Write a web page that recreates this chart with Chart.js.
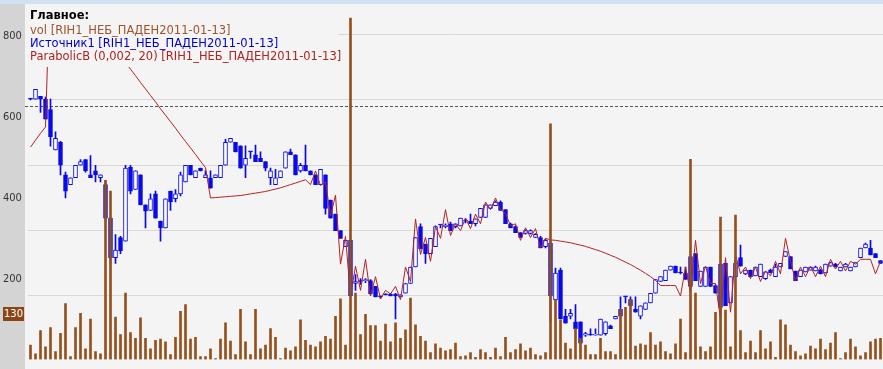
<!DOCTYPE html>
<html lang="ru">
<head>
    <meta charset="UTF-8">
    <title>RIH1</title>
    <style>
        body {
            margin: 0;
            background-color: #f4f4f4;
        }
        .chart-container {
            position: relative;
            width: 883px;
            height: 369px;
        }
        .legend {
            position: absolute;
            left: 25px;
            top: 5px;
            width: 313px;
            height: 62px;
            background-color: #f4f4f4;
            font-family: 'DejaVu Sans', sans-serif;
            font-size: 11.5px;
        }
        .legend div {
            position: absolute;
            left: 5px;
            line-height: 13px;
            white-space: nowrap;
        }
        .tag {
            position: absolute;
            left: 3px;
            top: 307px;
            width: 21px;
            height: 14px;
            line-height: 14px;
            background-color: #8b4513;
            color: white;
            font-family: 'DejaVu Sans Condensed', 'DejaVu Sans', sans-serif;
            font-size: 11px;
            text-align: center;
        }
    </style>
    <script src="https://cdn.jsdelivr.net/npm/chart.js"></script>
</head>
<body>
    <div class="chart-container">
        <canvas id="rihChart"></canvas>
        <div class="legend">
            <div style="top:4px; font-weight:bold; color:#000;">Главное:</div>
            <div style="top:19px; color:#a0522d;">vol [RIH1_НЕБ_ПАДЕН2011-01-13]</div>
            <div style="top:32px; color:#0000cc;">Источник1 [RIH1_НЕБ_ПАДЕН2011-01-13]</div>
            <div style="top:45px; color:#b22222;">ParabolicB (0,002, 20) [RIH1_НЕБ_ПАДЕН2011-01-13]</div>
        </div>
        <div class="tag" id="volTag">130</div>
    </div>

    <script>
        // candles
        const opens = [
            645, 645, 652, 645, 619, 519, 538, 457, 433, 450,
            481, 495, 457, 467, 450, 433, 350, 252, 302, 293,
            476, 421, 457, 383, 369, 410, 343, 326, 417, 398,
            410, 440, 481, 450, 474, 450, 450, 450, 450, 481,
            538, 538, 529, 481, 514, 507, 498, 490, 450, 433,
            450, 474, 514, 507, 467, 481, 467, 457, 433, 457,
            395, 360, 319, 279, 295, 188, 193, 195, 195, 181,
            155, 160, 162, 162, 155, 164, 188, 229, 329, 286,
            262, 279, 333, 329, 336, 329, 331, 343, 343, 336,
            352, 352, 374, 381, 390, 371, 336, 329, 314, 312,
            312, 302, 302, 279, 288, 148, 221, 107, 107, 93,
            93, 60, 60, 60, 60, 64, 83, 100, 124, 155,
            148, 124, 107, 124, 140, 164, 193, 195, 221, 231,
            214, 214, 255, 262, 181, 181, 229, 183, 236, 238,
            140, 205, 252, 212, 221, 207, 205, 200, 221, 205,
            229, 255, 255, 219, 205, 217, 221, 219, 221, 214,
            231, 236, 219, 229, 219, 229, 252, 276, 276, 262,
            245
        ];
        const highs = [
            647, 669, 652, 650, 645, 564, 540, 464, 450, 481,
            495, 495, 505, 481, 457, 443, 350, 309, 305, 481,
            481, 467, 457, 383, 410, 417, 343, 398, 417, 421,
            464, 481, 481, 467, 474, 467, 467, 457, 481, 545,
            548, 538, 529, 529, 514, 531, 514, 490, 474, 471,
            467, 514, 521, 507, 486, 531, 467, 457, 471, 457,
            395, 360, 319, 295, 295, 210, 200, 200, 198, 181,
            157, 162, 164, 164, 160, 188, 229, 302, 336, 286,
            300, 331, 333, 336, 340, 336, 350, 348, 360, 348,
            374, 383, 383, 393, 393, 371, 338, 331, 314, 321,
            321, 312, 305, 298, 293, 226, 226, 124, 124, 136,
            93, 67, 76, 76, 100, 93, 85, 107, 155, 155,
            155, 155, 133, 140, 164, 198, 205, 221, 231, 231,
            229, 229, 255, 262, 219, 229, 229, 185, 236, 238,
            205, 238, 283, 221, 221, 229, 236, 217, 224, 236,
            238, 267, 255, 219, 221, 229, 229, 231, 224, 236,
            240, 238, 229, 238, 229, 240, 276, 288, 295, 262,
            245
        ];
        const lows = [
            643, 645, 612, 595, 528, 519, 457, 400, 433, 450,
            481, 464, 450, 440, 440, 345, 238, 238, 262, 293,
            410, 421, 383, 326, 369, 350, 293, 326, 369, 390,
            405, 440, 457, 450, 467, 450, 424, 450, 450, 481,
            538, 514, 474, 450, 498, 490, 490, 467, 433, 433,
            450, 474, 507, 457, 464, 467, 457, 433, 433, 360,
            350, 319, 300, 279, 157, 171, 186, 190, 162, 155,
            152, 160, 157, 100, 155, 164, 188, 229, 274, 238,
            262, 279, 326, 326, 319, 326, 331, 338, 336, 331,
            352, 352, 374, 381, 369, 336, 326, 314, 302, 310,
            310, 302, 276, 276, 93, 148, 100, 90, 100, 76,
            38, 57, 60, 60, 60, 60, 76, 100, 107, 140,
            133, 117, 100, 124, 140, 164, 193, 195, 221, 214,
            212, 198, 181, 195, 181, 181, 181, 164, 129, 133,
            140, 205, 231, 210, 205, 207, 205, 198, 214, 205,
            229, 255, 224, 195, 205, 217, 221, 219, 212, 214,
            231, 229, 219, 229, 219, 229, 252, 276, 259, 252,
            238
        ];
        const closes = [
            645, 669, 645, 595, 552, 548, 481, 417, 450, 481,
            490, 467, 450, 457, 457, 350, 252, 271, 269, 474,
            417, 467, 383, 367, 398, 350, 326, 398, 390, 410,
            457, 481, 457, 467, 467, 457, 424, 457, 481, 538,
            548, 514, 474, 498, 514, 490, 490, 474, 467, 450,
            467, 514, 507, 457, 481, 467, 457, 433, 471, 374,
            350, 319, 300, 295, 157, 193, 193, 198, 162, 155,
            155, 160, 157, 157, 160, 188, 229, 302, 274, 262,
            300, 329, 333, 333, 319, 336, 350, 343, 336, 348,
            374, 383, 383, 390, 369, 336, 326, 314, 302, 319,
            319, 310, 276, 295, 157, 214, 100, 90, 114, 76,
            40, 64, 60, 62, 100, 93, 76, 107, 107, 155,
            133, 117, 133, 140, 164, 198, 205, 221, 231, 214,
            214, 198, 181, 195, 219, 229, 181, 164, 129, 133,
            205, 238, 231, 221, 205, 229, 236, 217, 214, 229,
            238, 267, 224, 195, 221, 229, 229, 229, 212, 236,
            240, 229, 229, 236, 229, 240, 276, 286, 259, 252,
            238
        ];
        const volumes = [
            35, 14, 71, 31, 78, 19, 64, 137, 7, 78,
            113, 26, 99, 19, 14, 440, 414, 104, 61, 163,
            66, 52, 102, 52, 26, 47, 50, 43, 12, 54,
            118, 135, 50, 54, 7, 7, 26, 2, 50, 90,
            45, 12, 123, 43, 12, 123, 26, 35, 76, 54,
            2, 28, 21, 31, 97, 47, 35, 31, 43, 57,
            50, 106, 149, 35, 839, 163, 61, 111, 83, 83,
            45, 87, 43, 90, 52, 73, 151, 85, 57, 45,
            17, 38, 28, 21, 24, 40, 7, 9, 17, 5,
            24, 17, 5, 28, 7, 54, 17, 24, 38, 21,
            28, 12, 9, 17, 579, 147, 97, 40, 26, 76,
            52, 35, 12, 12, 52, 19, 19, 12, 123, 128,
            147, 33, 38, 35, 66, 35, 43, 19, 14, 38,
            99, 17, 492, 163, 31, 19, 31, 116, 350, 121,
            31, 355, 71, 17, 45, 17, 71, 26, 43, 5,
            97, 85, 35, 19, 9, 14, 33, 26, 50, 24,
            40, 66, 2, 17, 50, 31, 9, 17, 43, 50,
            52
        ];
        // ParabolicB (0,002, 20)
        const sarValues = [
            526, 543, 560, 576, 979, 963, 946, 930, 914, 898,
            881, 865, 849, 833, 816, 800, 784, 768, 751, 735,
            719, 703, 686, 670, 654, 638, 621, 605, 589, 573,
            556, 540, 524, 508, 491, 475, 400, 401, 402, 403,
            404, 405, 406, 408, 410, 412, 414, 416, 419, 422,
            425, 429, 433, 437, 441, 445, 433, 467, 431, 440,
            355, 407, 236, 305, 157, 231, 171, 248, 157, 205,
            150, 171, 162, 181, 148, 229, 193, 348, 260, 302,
            243, 329, 300, 371, 307, 336, 319, 350, 324, 360,
            336, 390, 371, 400, 371, 362, 331, 336, 295, 326,
            302, 324, 276, 300, 296, 295, 293, 291, 289, 286,
            283, 280, 276, 272, 268, 263, 258, 253, 247, 241,
            235, 228, 221, 213, 205, 196, 183, 183, 183, 183,
            157, 229, 164, 295, 188, 231, 188, 188, 100, 252,
            117, 260, 212, 229, 200, 229, 193, 219, 207, 243,
            212, 300, 243, 195, 229, 205, 231, 205, 231, 205,
            248, 224, 243, 219, 243, 236, 248, 248, 248, 212,
            243
        ];
        const priceTicks = [200, 400, 600, 800];
        const levelLine = 628;

        const candleLabels = closes.map((c, i) => String(i + 1));
        const blue = '#0808e8';

        const backgroundPlugin = {
            id: 'background',
            beforeDraw(chart) {
                const ctx = chart.ctx;
                ctx.save();
                ctx.fillStyle = '#f4f4f4';
                ctx.fillRect(0, 0, chart.width, chart.height);
                ctx.fillStyle = '#d4d4d4';
                ctx.fillRect(0, 0, 25, chart.height);
                ctx.fillStyle = '#d2e1f0';
                ctx.fillRect(0, 0, chart.width, 4);
                ctx.restore();
            }
        };

        const levelPlugin = {
            id: 'level',
            beforeDatasetsDraw(chart) {
                const ctx = chart.ctx;
                const y = Math.round(chart.scales.y.getPixelForValue(levelLine)) + 0.5;
                ctx.save();
                ctx.strokeStyle = '#555555';
                ctx.lineWidth = 1;
                ctx.setLineDash([3, 2]);
                ctx.beginPath();
                ctx.moveTo(25, y);
                ctx.lineTo(chart.chartArea.right, y);
                ctx.stroke();
                ctx.restore();
            }
        };

        const ctx = document.getElementById('rihChart').getContext('2d');
        const rihChart = new Chart(ctx, {
            type: 'bar',
            data: {
                labels: candleLabels,
                datasets: [
                    {
                        label: 'vol',
                        data: volumes,
                        yAxisID: 'yv',
                        backgroundColor: '#94511c',
                        barThickness: 2,
                        grouped: false,
                        order: 0
                    },
                    {
                        type: 'line',
                        label: 'ParabolicB',
                        data: sarValues,
                        yAxisID: 'y',
                        borderColor: '#b22222',
                        borderWidth: 1,
                        pointRadius: 0,
                        tension: 0,
                        order: 1
                    },
                    {
                        label: 'Источник1',
                        data: opens.map((o, i) => [o, closes[i]]),
                        yAxisID: 'y',
                        backgroundColor: opens.map((o, i) => closes[i] > o ? '#ffffff' : blue),
                        borderColor: blue,
                        borderWidth: 1,
                        borderSkipped: false,
                        barThickness: 4,
                        minBarLength: 1,
                        grouped: false,
                        order: 2
                    },
                    {
                        label: 'wicks',
                        data: lows.map((l, i) => [l, highs[i]]),
                        yAxisID: 'y',
                        backgroundColor: blue,
                        barThickness: 1,
                        minBarLength: 1,
                        grouped: false,
                        order: 3
                    }
                ]
            },
            options: {
                responsive: true,
                maintainAspectRatio: false,
                animation: false,
                layout: {
                    padding: { left: 3, top: 5, right: 0, bottom: 0 }
                },
                plugins: {
                    legend: { display: false },
                    tooltip: { enabled: false }
                },
                scales: {
                    x: {
                        display: false,
                        offset: true
                    },
                    y: {
                        position: 'left',
                        min: 0,
                        max: 866.67,
                        afterFit: (scale) => { scale.width = 25; },
                        afterBuildTicks: (scale) => {
                            scale.ticks = priceTicks.map(v => ({ value: v }));
                        },
                        ticks: {
                            crossAlign: 'far',
                            color: '#333333',
                            font: { family: "'DejaVu Sans Condensed', 'DejaVu Sans'", size: 11 }
                        },
                        grid: { display: false },
                        border: { display: false }
                    },
                    yv: {
                        display: false,
                        min: 0,
                        max: 860
                    },
                    yg: {
                        position: 'right',
                        min: 0.03,
                        max: 5.375,
                        afterFit: (scale) => { scale.width = 0; },
                        ticks: { display: false, stepSize: 1, includeBounds: false },
                        grid: { color: '#d8d8d8', drawTicks: false },
                        border: { display: false }
                    }
                }
            },
            plugins: [backgroundPlugin, levelPlugin]
        });
    </script>
</body>
</html>
